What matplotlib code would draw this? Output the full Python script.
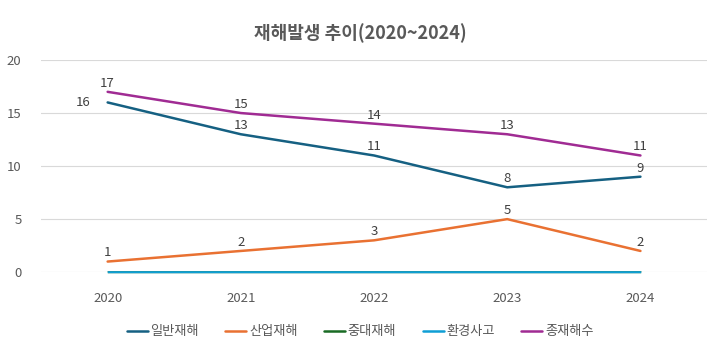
import matplotlib
matplotlib.use("Agg")
import matplotlib.pyplot as plt

plt.rcParams['font.family'] = ['Noto Sans CJK KR', 'DejaVu Sans']

years = ['2020', '2021', '2022', '2023', '2024']
series_names = ['일반재해', '산업재해', '중대재해', '환경사고', '종재해수']
general = [16, 13, 11, 8, 9]
industrial = [1, 2, 3, 5, 2]
serious = [0, 0, 0, 0, 0]
environment = [0, 0, 0, 0, 0]
total = [17, 15, 14, 13, 11]

colors = ['#156082', '#E97132', '#196B24', '#0F9ED5', '#A02B93']
data = [general, industrial, serious, environment, total]
show_labels = [True, True, False, False, True]

fig = plt.figure(figsize=(7.2, 3.53), dpi=100)
ax = fig.add_axes([0.057, 0.229, 0.925, 0.601])
x = list(range(len(years)))
for name, vals, c, lab in zip(series_names, data, colors, show_labels):
    ax.plot(x, vals, color=c, lw=1.8, label=name, solid_capstyle='round')
    if not lab:
        # zero series sit on the axis bottom: draw visible thin part
        ax.plot(x, vals, color=c, lw=1.0, clip_on=False)
    if lab:
        for i, v in enumerate(vals):
            if name == '일반재해' and i == 0:
                ax.annotate(str(v), (i, v), xytext=(-12, 0), textcoords='offset points',
                            ha='right', va='center', fontsize=9.5, color='#404040')
            else:
                ax.annotate(str(v), (i, v), xytext=(0, 1.5), textcoords='offset points',
                            ha='center', va='bottom', fontsize=9.5, color='#404040')

ax.set_xlim(-0.5, 4.5)
ax.set_ylim(0, 20)
ax.set_yticks([0, 5, 10, 15, 20])
ax.set_xticks(x)
ax.set_xticklabels(years)
ax.grid(axis='y', color='#D9D9D9', lw=0.8)
ax.set_axisbelow(True)
for s in ax.spines.values():
    s.set_visible(False)
ax.tick_params(length=0, labelsize=9.5, colors='#595959')
ax.tick_params(axis='x', pad=14)
ax.tick_params(axis='y', pad=14)

fig.text(0.5, 0.905, '재해발생 추이(2020~2024)', ha='center', va='center',
         fontsize=13, fontweight='bold', color='#595959')
fig.legend(loc='center', bbox_to_anchor=(0.5, 0.06), ncol=5, frameon=False,
           fontsize=9.5, labelcolor='#595959', handlelength=1.6, handletextpad=0.2,
           columnspacing=2.0)
fig.savefig('out.png', dpi=100)
